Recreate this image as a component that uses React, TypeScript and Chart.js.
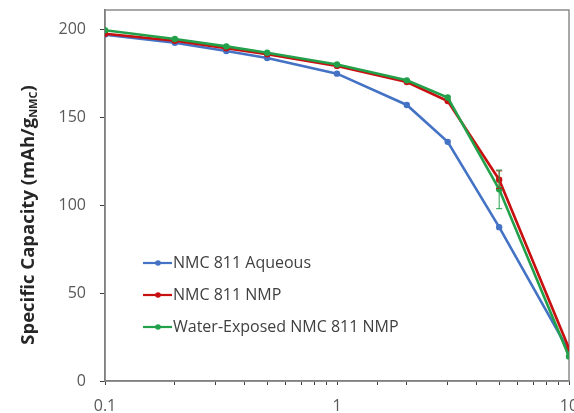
import React, { useEffect, useRef } from "react";
import { Chart, registerables } from "chart.js";

Chart.register(...registerables);

const rates = [0.1, 0.2, 1 / 3, 0.5, 1, 2, 3, 5, 10];
const aqueous = [197, 192.4, 187.7, 183.7, 174.8, 157, 136, 87.5, 17];
const nmp = [197.5, 193.5, 189.3, 185.8, 179.2, 170, 159.2, 114.5, 18.5];
const waterExposed = [199.5, 194.5, 190.3, 186.7, 180, 171, 161.2, 109, 14];
const nmpErr = [0, 0, 0, 0, 0, 0, 0, 5, 0];
const waterErr = [0, 0, 0, 0, 0, 0, 0, 11, 0];
const seriesNames = ["NMC 811 Aqueous", "NMC 811 NMP", "Water-Exposed NMC 811 NMP"];
const yTicks = [0, 50, 100, 150, 200];
const xLabels = [0.1, 1, 10];

const BLUE = "#4472C4";
const RED = "#C81010";
const GREEN = "#23A04A";
const FONT = "'Open Sans', 'Liberation Sans', sans-serif";

export default function App() {
  const ref = useRef<HTMLCanvasElement>(null);
  useEffect(() => {
    const errs = [null, nmpErr, waterErr];
    const framePlugin = {
      id: "frame",
      beforeDatasetsDraw(chart: any) {
        const { ctx, chartArea: a } = chart;
        ctx.save();
        ctx.strokeStyle = "#8c8c8c";
        ctx.lineWidth = 1.5;
        ctx.strokeRect(a.left, a.top, a.right - a.left, a.bottom - a.top);
        ctx.restore();
      },
      afterDatasetsDraw(chart: any) {
        const { ctx } = chart;
        const xs = chart.scales.x;
        const ys = chart.scales.y;
        errs.forEach((e, di) => {
          if (!e) return;
          const ds = chart.data.datasets[di];
          ctx.save();
          ctx.strokeStyle = ds.borderColor;
          ctx.lineWidth = 1;
          e.forEach((v: number, i: number) => {
            if (!v) return;
            const px = xs.getPixelForValue(rates[i]);
            const yv = (ds.data[i] as any).y;
            const y1 = ys.getPixelForValue(yv + v);
            const y2 = ys.getPixelForValue(yv - v);
            ctx.beginPath();
            ctx.moveTo(px, y1);
            ctx.lineTo(px, y2);
            ctx.moveTo(px - 3, y1);
            ctx.lineTo(px + 3, y1);
            ctx.moveTo(px - 3, y2);
            ctx.lineTo(px + 3, y2);
            ctx.stroke();
          });
          ctx.restore();
        });
        const colors = [BLUE, RED, GREEN];
        ctx.save();
        ctx.font = `16px ${FONT}`;
        ctx.textBaseline = "middle";
        seriesNames.forEach((n, i) => {
          const y = 263 + i * 32;
          const x0 = 143;
          ctx.strokeStyle = colors[i];
          ctx.lineWidth = 2.2;
          ctx.beginPath();
          ctx.moveTo(x0, y);
          ctx.lineTo(x0 + 29, y);
          ctx.stroke();
          ctx.fillStyle = colors[i];
          ctx.beginPath();
          ctx.arc(x0 + 15, y, 2.8, 0, Math.PI * 2);
          ctx.fill();
          ctx.fillStyle = "#404040";
          ctx.fillText(n, x0 + 30, y);
        });
        ctx.restore();
      },
      afterDraw(chart: any) {
        const { ctx } = chart;
        ctx.save();
        ctx.translate(29, 215);
        ctx.rotate(-Math.PI / 2);
        ctx.fillStyle = "#262626";
        ctx.textBaseline = "middle";
        const main = "Specific Capacity (mAh/g";
        const sub = "NMC";
        const tail = ")";
        ctx.font = `bold 18.5px ${FONT}`;
        const w1 = ctx.measureText(main).width;
        const w3 = ctx.measureText(tail).width;
        ctx.font = `bold 11px ${FONT}`;
        const w2 = ctx.measureText(sub).width;
        const total = w1 + w2 + w3;
        let x = -total / 2;
        ctx.font = `bold 18.5px ${FONT}`;
        ctx.textAlign = "left";
        ctx.fillText(main, x, 0);
        x += w1;
        ctx.font = `bold 11px ${FONT}`;
        ctx.fillText(sub, x, 5);
        x += w2;
        ctx.font = `bold 18.5px ${FONT}`;
        ctx.fillText(tail, x, 0);
        ctx.restore();
      },
    };

    const mk = (label: string, data: number[], color: string, order: number) => ({
      label,
      data: rates.map((r, i) => ({ x: r, y: data[i] })),
      borderColor: color,
      backgroundColor: color,
      borderWidth: 2.6,
      pointRadius: 3.2,
      pointBorderWidth: 0,
      pointBackgroundColor: color,
      tension: 0,
      order,
      showLine: true,
    });

    const chart = new Chart(ref.current!, {
      type: "scatter",
      data: {
        datasets: [
          mk(seriesNames[0], aqueous, BLUE, 3),
          mk(seriesNames[1], nmp, RED, 2),
          mk(seriesNames[2], waterExposed, GREEN, 1),
        ] as any,
      },
      options: {
        responsive: false,
        animation: false,
        layout: { padding: { top: 10, right: 5, left: 0, bottom: 0 } },
        plugins: { legend: { display: false }, tooltip: { enabled: false } },
        scales: {
          x: {
            type: "logarithmic",
            min: 0.1,
            max: 10,
            grid: {
              display: true,
              drawOnChartArea: false,
              drawTicks: true,
              tickLength: 4,
              color: "#404040",
            },
            border: { display: true, color: "#595959", width: 1.5 },
            ticks: {
              autoSkip: false,
              maxRotation: 0,
              color: "#595959",
              font: { family: FONT, size: 16 },
              padding: 12,
              callback: (v: any) => {
                const n = Number(v);
                return xLabels.some((l) => Math.abs(l - n) < 1e-9) ? String(n) : "";
              },
            },
            afterFit: (s: any) => {
              s.height = 32;
              s.paddingRight = 0;
              s.paddingLeft = 0;
            },
          },
          y: {
            min: 0,
            max: 211,
            grid: {
              display: true,
              drawOnChartArea: false,
              tickLength: 5,
              color: "#404040",
            },
            border: { display: true, color: "#595959", width: 1.5 },
            ticks: {
              color: "#595959",
              font: { family: FONT, size: 16 },
              padding: 14,
            },
            afterBuildTicks: (s: any) => {
              s.ticks = yTicks.map((v) => ({ value: v }));
            },
            afterFit: (s: any) => {
              s.width = 105;
              s.paddingTop = 0;
              s.paddingBottom = 0;
            },
          },
        },
      },
      plugins: [framePlugin],
    });
    return () => chart.destroy();
  }, []);

  return (
    <div style={{ position: "fixed", left: 0, top: 0, width: 574, height: 413, background: "#fff" }}>
      <canvas ref={ref} width={574} height={413} />
    </div>
  );
}
